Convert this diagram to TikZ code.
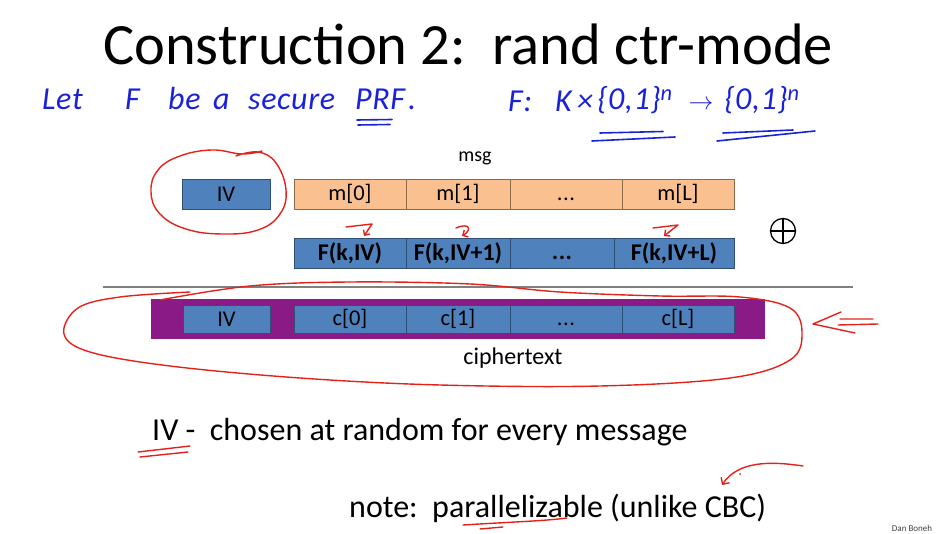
\documentclass[tikz,border=0pt]{standalone}
\usepackage{fontspec}
\setmainfont{Carlito}
\usetikzlibrary{arrows.meta}
\definecolor{boxblue}{HTML}{4F81BD}
\definecolor{boxedge}{HTML}{2F4F75}
\definecolor{msgorange}{HTML}{FAC090}
\definecolor{msgedge}{HTML}{8C6A4A}
\definecolor{ctpurple}{HTML}{8A1A86}
\definecolor{penblue}{HTML}{1A22D8}
\definecolor{penred}{HTML}{E3231B}
\newcommand\blockdots{\vphantom{m[0]}{.}\kern0.5pt{.}\kern0.5pt{.}}
\tikzset{
  cell/.style={draw=boxedge, fill=boxblue, line width=0.8pt, minimum height=30pt,
    inner sep=0pt, font=\fontsize{22.5}{26}\selectfont},
  msgcell/.style={cell, draw=msgedge, fill=msgorange},
  label text/.style={font=\fontsize{20}{24}\selectfont},
  hand/.style={font=\fontsize{32}{36}\selectfont\itshape\addfontfeatures{LetterSpace=2}, text=penblue, inner sep=0pt},
  ink/.style={penred, line width=1.4pt, line cap=round, line join=round},
  blueink/.style={penblue, line width=1.6pt, line cap=round},
}
\begin{document}
\begin{tikzpicture}[x=1pt, y=-1pt]
\useasboundingbox (0,0) rectangle (942,534);
% title and handwritten notes
\node[font=\fontsize{58.5}{64}\selectfont] (title) at (468,44) {Construction 2:\ \ rand ctr-mode};
\foreach \x/\w [count=\i] in {42/Let, 125/F, 168/be, 213/a, 248/secure, 355/PRF, 408/.}
  \node[hand, anchor=base west] (let\i) at (\x,110) {\w};
\node[hand, anchor=base west] (sig) at (508,112) {F:};
\node[hand, anchor=base west] (key) at (555,112) {K\,×};
\node[hand, anchor=base] (dom) at (635,110) {\{0,1\}\textsuperscript{n}};
\node[hand, anchor=base] (to) at (701,110) {$\rightarrow$};
\node[hand, anchor=base] (rng) at (762,110) {\{0,1\}\textsuperscript{n}};
\draw[blueink] (357,120) -- (392,119.5) (358,125) -- (390,124.5);
\draw[blueink] (600,133) -- (663,131.5) (592,141) -- (675,137);
\draw[blueink] (723,133) -- (793,130) (717,141) -- (815,131);

% message row
\node[label text] (msg) at (475,158) {msg};
\node[cell, minimum width=88pt] (iv) at (226,194) {IV};
\foreach \cx/\w/\t/\n in {350/112/m[0]/m0, 458/104/m[1]/m1, 566/112/\blockdots/md, 678/112/m[L]/mL}
  \node[msgcell, minimum width=\w pt] (\n) at (\cx,194) {\t};

% PRF outputs
\foreach \cx/\w/\t/\n in {350/112/F(k{,}IV)/f0, 458/104/F(k{,}IV+1)/f1, 562/104/\blockdots/fd, 674/120/F(k{,}IV+L)/fL}
  \node[cell, minimum width=\w pt, font=\fontsize{24}{28}\selectfont\bfseries] (\n) at (\cx,253) {\t};
\node[circle, draw, line width=1.3pt, minimum size=25pt, inner sep=0pt,
  path picture={\draw[line width=1.3pt] (path picture bounding box.north) -- (path picture bounding box.south)
    (path picture bounding box.west) -- (path picture bounding box.east);}] (xor) at (783,231) {};

\draw[gray, line width=1.2pt] (103,287) -- (853,287);

% ciphertext
\node[fill=ctpurple, minimum width=614pt, minimum height=40pt, inner sep=0pt] (ct) at (458,319) {};
\node[cell, minimum width=87pt, minimum height=28pt] (civ) at (226.5,319) {IV};
\foreach \cx/\w/\t/\n in {350/112/c[0]/c0, 458/104/c[1]/c1, 566/112/\blockdots/cd, 678/112/c[L]/cL}
  \node[cell, minimum width=\w pt, minimum height=28pt] (\n) at (\cx,319) {\t};
\node[font=\fontsize{24}{28}\selectfont] (cttext) at (513,358) {ciphertext};

% notes
\node[font=\fontsize{32}{36}\selectfont, anchor=west, inner sep=0pt] (ivnote) at (152,432) {IV -\ \ chosen at random for every message};
\node[font=\fontsize{32}{36}\selectfont, anchor=west, inner sep=0pt] (note) at (349,508) {note:\ \ parallelizable (unlike CBC)};
\node[font=\fontsize{9}{10}\selectfont, text=darkgray] (author) at (912,528) {Dan Boneh};

% red pen marks
\draw[ink] plot[smooth, tension=0.7] coordinates {(236,156) (258,152) (276,163) (286,190) (280,214) (258,230) (222,234) (186,229) (160,214) (151,192) (158,170) (180,156) (212,150) (242,154) (262,151)};
\draw[ink] plot[smooth, tension=0.6] coordinates {(160,300) (250,286) (350,282) (470,284) (560,292) (660,296) (740,297) (790,308) (802,333) (790,360) (730,378) (600,386) (440,385) (300,378) (170,366) (90,352) (64,334) (78,308) (120,297) (190,292)};
\draw[ink, -{Straight Barb[length=4pt]}] (346,227) -- (372,224) -- (364,236);
\draw[ink, -{Straight Barb[length=4pt]}] (456,228) .. controls (470,222) and (472,230) .. (462,236);
\draw[ink, -{Straight Barb[length=4pt]}] (653,228) -- (678,225) -- (664,236);
\draw[ink] (841,312) -- (813,324) -- (855,333) (840,319) -- (873,319) (838,325) -- (878,324);
\draw[ink] (138,452) -- (190,446) (140,457) -- (188,452);
\draw[ink] (463,525) .. controls (510,522) and (545,521) .. (567,518) (480,529) -- (503,527);
\draw[ink, -{Straight Barb[length=5pt]}] (803,466) .. controls (770,461) and (738,461) .. (722,485);
\fill[penred] (740,474) circle (1pt);
\end{tikzpicture}
\end{document}
